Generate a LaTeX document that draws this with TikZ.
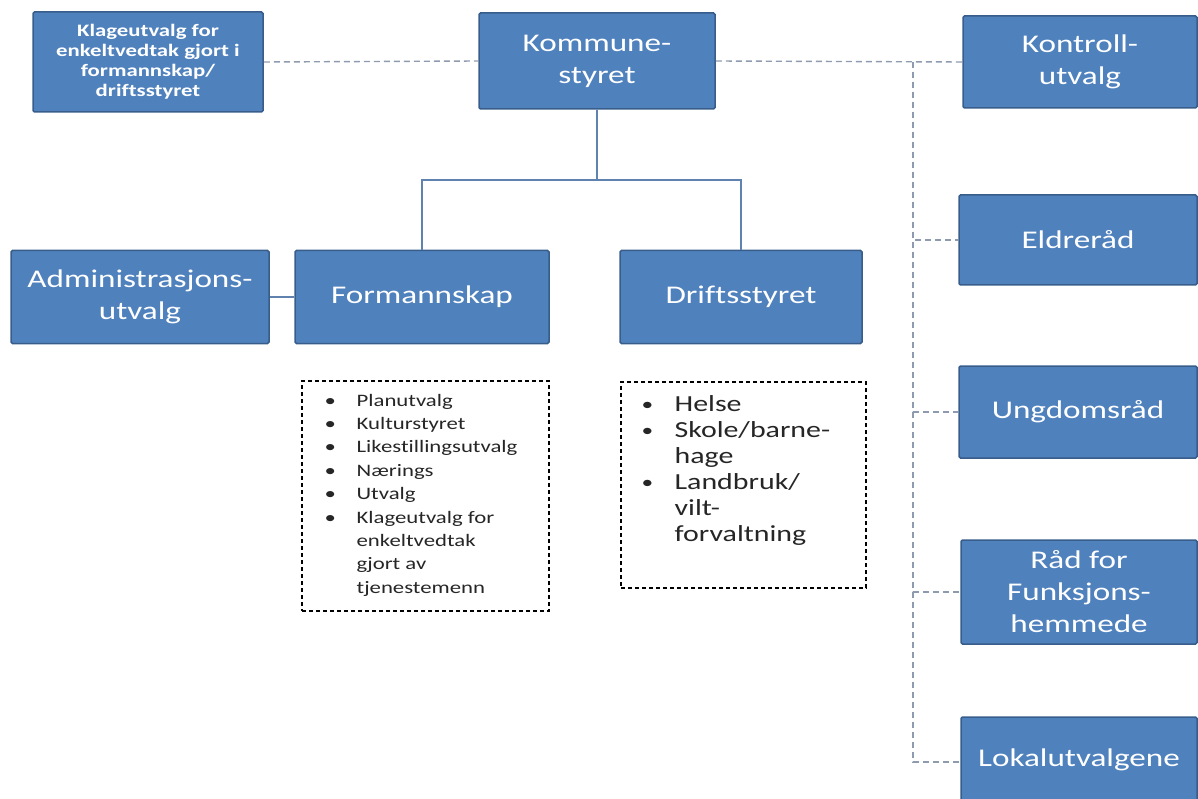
\documentclass[tikz,border=0pt]{standalone}
\usepackage{fontspec}
\setmainfont{Carlito}[FakeStretch=1.3, Ligatures=NoCommon]
\usepackage{xcolor}
\definecolor{boxblue}{HTML}{4F81BD}
\definecolor{boxedge}{HTML}{385D8A}
\definecolor{linkblue}{HTML}{5F82AE}
\definecolor{linkgray}{HTML}{8E9BAE}
\definecolor{listtext}{HTML}{262626}
\newcommand{\dbullet}{\raisebox{1pt}{\fontsize{18}{26}\selectfont\textbullet}}

\begin{document}
\begin{tikzpicture}[x=1pt,y=-1pt,
    unit/.style={draw=boxedge, line width=1.5pt, fill=boxblue, text=white,
        rounded corners=1.5pt, align=center, inner sep=2pt,
        font=\fontsize{25.5}{32}\selectfont},
    listbox/.style={draw=black, line width=1.1pt, dash pattern=on 4pt off 3pt},
    solidlink/.style={draw=linkblue, line width=1.6pt},
    dashlink/.style={draw=linkgray, line width=1.4pt, dash pattern=on 6pt off 4pt}]

    \useasboundingbox (0,0) rectangle (1198,799);

    % top row
    \node[unit, minimum width=230, minimum height=100,
          font=\bfseries\fontsize{17.5}{20}\selectfont] (klage) at (148,62)
          {Klageutvalg for\\enkeltvedtak gjort i\\formannskap/\\driftsstyret};
    \node[unit, minimum width=236, minimum height=96] (kommune) at (597,61) {Kommune-\\styret};
    \node[unit, minimum width=234, minimum height=92] (kontroll) at (1080,62) {Kontroll-\\utvalg};

    % right column
    \node[unit, minimum width=238, minimum height=90] (eldre) at (1078,240) {Eldreråd};
    \node[unit, minimum width=238, minimum height=92] (ungdom) at (1078,412) {Ungdomsråd};
    \node[unit, minimum width=236, minimum height=104] (funk) at (1079,592) {Råd for\\Funksjons-\\hemmede};
    \node[unit, minimum width=236, minimum height=86] (lokal) at (1079,760) {Lokalutvalgene};

    % middle row
    \node[unit, minimum width=258, minimum height=93] (admin) at (140,297) {Administrasjons-\\utvalg};
    \node[unit, minimum width=254, minimum height=93] (formann) at (422,297) {Formannskap};
    \node[unit, minimum width=242, minimum height=93] (drifts) at (741,297) {Driftsstyret};

    % lists
    \node[listbox, minimum width=247, minimum height=230] (flist) at (425.5,496) {};
    \node[anchor=north west, inner sep=0pt, text=listtext,
          font=\fontsize{17.5}{23.4}\selectfont] (fitems)
        at ([shift={(23,9)}]flist.north west) {%
        \begin{tabular}{@{}p{32pt}@{}l@{}}
        \textbullet & Planutvalg\\
        \textbullet & Kulturstyret\\
        \textbullet & Likestillingsutvalg\\
        \textbullet & Nærings\\
        \textbullet & Utvalg\\
        \textbullet & Klageutvalg for\\
                    & enkeltvedtak\\
                    & gjort av\\
                    & tjenestemenn
        \end{tabular}};

    \node[listbox, minimum width=245, minimum height=206] (dlist) at (743.5,485) {};
    \node[anchor=north west, inner sep=0pt, text=listtext,
          font=\fontsize{23}{26}\selectfont] (ditems)
        at ([shift={(21,12)}]dlist.north west) {%
        \begin{tabular}{@{}p{33pt}@{}l@{}}
        \dbullet & Helse\\
        \dbullet & Skole/barne-\\
                 & hage\\
        \dbullet & Landbruk/\\
                 & vilt-\\
                 & forvaltning
        \end{tabular}};

    % solid lines
    \coordinate (split) at (597,180);
    \draw[solidlink] (kommune.south) -- (split);
    \draw[solidlink] (split) -| (formann.north);
    \draw[solidlink] (split) -| (drifts.north);
    \draw[solidlink] (admin.east) -- (formann.west);

    % dashed lines
    \coordinate (bus) at (913,62);
    \draw[dashlink] (klage.east) -- (kommune.west);
    \draw[dashlink] (kommune.east) -- (kontroll.west);
    \draw[dashlink] (bus) |- (eldre.west);
    \draw[dashlink] (bus) |- (ungdom.west);
    \draw[dashlink] (bus) |- (funk.west);
    \draw[dashlink] (bus) |- ([yshift=-2]lokal.west);

\end{tikzpicture}
\end{document}
